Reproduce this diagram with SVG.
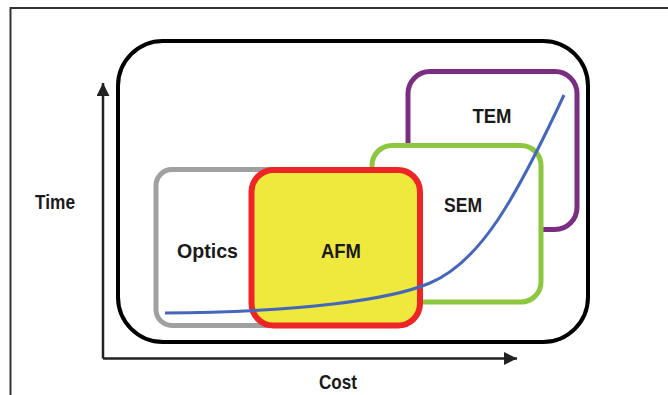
<svg xmlns="http://www.w3.org/2000/svg" width="668" height="395" viewBox="0 0 668 395">
<style>
.lbl{font-family:"Liberation Sans",Arial,sans-serif;font-weight:bold;font-size:21px;fill:#1a1a1a;text-anchor:middle}
.box{stroke-width:5}
</style>
<defs>
<marker id="ah" viewBox="0 0 10 10" refX="10" refY="5" markerWidth="17" markerHeight="13" markerUnits="userSpaceOnUse" orient="auto">
<path d="M0,0 L10,5 L0,10 Z" fill="#222"/>
</marker>
</defs>
<rect width="668" height="395" fill="#fff"/>
<g id="frame" stroke="#333" stroke-width="2" fill="none">
<path d="M10.5,395 L10.5,8 L668,8"/>
</g>
<g id="container">
<rect x="118" y="41" width="470" height="301" rx="45" ry="45" fill="none" stroke="#000" stroke-width="4"/>
</g>
<g id="tem">
<rect class="box" x="408" y="71.5" width="169" height="158" rx="22" fill="#fff" stroke="#7B2D82"/>
<text class="lbl" x="492" y="122.5" textLength="39" lengthAdjust="spacingAndGlyphs">TEM</text>
</g>
<g id="sem">
<rect class="box" x="372" y="145.5" width="169" height="156.5" rx="20" fill="#fff" stroke="#8DC63F"/>
<text class="lbl" x="463" y="211.5" textLength="38" lengthAdjust="spacingAndGlyphs">SEM</text>
</g>
<g id="optics">
<rect class="box" x="156" y="169.5" width="150" height="156" rx="16" fill="#fff" stroke="#A0A0A0"/>
<text class="lbl" x="207.5" y="257.5" textLength="61" lengthAdjust="spacingAndGlyphs">Optics</text>
</g>
<g id="afm">
<rect x="251.5" y="170" width="168.5" height="155.5" rx="22" fill="#EEE93C" stroke="#EE2526" stroke-width="6"/>
<text class="lbl" x="341" y="257.5" textLength="40" lengthAdjust="spacingAndGlyphs">AFM</text>
</g>
<g id="connectors" fill="none">
<path d="M103,358.5 L103,83" stroke="#222" stroke-width="2.5" marker-end="url(#ah)"/>
<path d="M103,358.5 L517,358.5" stroke="#222" stroke-width="2.5" marker-end="url(#ah)"/>
<path d="M165,313 C300,312 390,300 430,283 C480,262 515,200 564,95" stroke="#4466BB" stroke-width="3"/>
</g>
<g id="axis-labels">
<text class="lbl" x="55" y="208.5" textLength="40" lengthAdjust="spacingAndGlyphs">Time</text>
<text class="lbl" x="338" y="388.5" textLength="38" lengthAdjust="spacingAndGlyphs">Cost</text>
</g>
</svg>
